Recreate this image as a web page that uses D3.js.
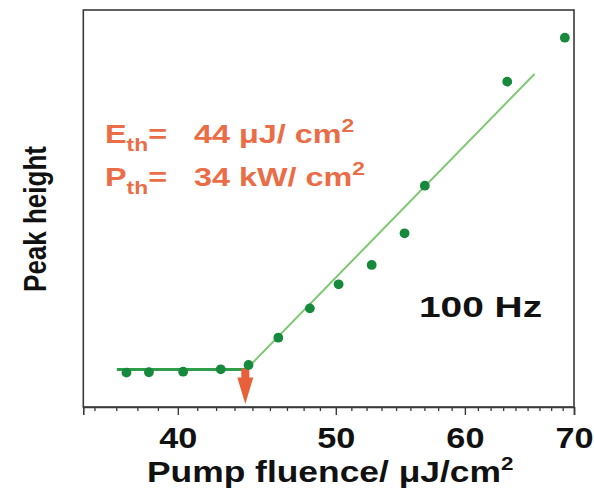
<!DOCTYPE html>
<html>
<head>
<meta charset="utf-8">
<script src="https://cdn.jsdelivr.net/npm/d3@7"></script>
<style>
  html, body { margin: 0; padding: 0; background: #fff; }
  svg { display: block; font-family: "Liberation Sans", Arial, sans-serif; }
</style>
</head>
<body>
<svg id="chart" width="594" height="491"></svg>
<script>
// Pump fluence (µJ/cm²) and measured peak height (arb. units)
const fluence = [37.2, 38.4, 40.3, 42.5, 44.2, 46.1, 48.2, 50.2, 52.6, 55.1, 56.7, 63.7, 69.1];
const peakHeight = [34.6, 35.0, 35.6, 38.0, 42.3, 69.8, 99.4, 123.6, 143.1, 175.0, 223.0, 327.8, 372.1];

// Below-threshold and above-threshold linear fits (endpoints)
const fitBelowX = [36.7, 44.2];
const fitBelowY = [37.8, 37.8];
const fitAboveX = [44.2, 66.2];
const fitAboveY = [40.3, 335.5];

// Threshold values
const thresholdFluence = 44;      // µJ/cm²
const thresholdPower = 34;        // kW/cm²
const repRate = "100 Hz";

// Axis ticks
const xMajorTicks = [40, 50, 60, 70];
const xDomain = [35, 70];
const yDomain = [0, 400];

const svg = d3.select("#chart");
const plotLeft = 83.3, plotRight = 574, plotTop = 10, plotBottom = 407;

const x = d3.scaleLog().domain(xDomain).range([plotLeft, plotRight]);
const y = d3.scaleLinear().domain(yDomain).range([plotBottom, plotTop]);

// Text is drawn slightly widened (horizontal stretch)
const widen = 1.18;

// Minor ticks: eight evenly spaced values inside each step of 10
const minorTicks = [];
const steps = [30].concat(xMajorTicks);
for (let k = 0; k < steps.length - 1; k++) {
  const a = steps[k], b = steps[k + 1];
  for (let i = 1; i <= 8; i++) {
    const v = a + (b - a) * i / 9;
    if (v > xDomain[0] && v < xDomain[1]) minorTicks.push(v);
  }
}

const frameColor = "#3a3a3a";

// Frame (top, left, right)
svg.append("rect")
  .attr("x", plotLeft).attr("y", plotTop)
  .attr("width", plotRight - plotLeft).attr("height", plotBottom - plotTop)
  .attr("fill", "none").attr("stroke", frameColor).attr("stroke-width", 1.6);

// Bottom axis
const xAxis = d3.axisBottom(x)
  .tickValues(xMajorTicks)
  .tickFormat(d3.format("d"))
  .tickSize(8);

const gx = svg.append("g").attr("transform", `translate(0,${plotBottom})`).call(xAxis);
gx.select(".domain").attr("stroke", frameColor).attr("stroke-width", 1.6);
gx.selectAll(".tick line").attr("stroke", frameColor).attr("stroke-width", 1.4);
gx.selectAll(".tick text")
  .attr("y", 41).attr("dy", null)
  .attr("transform", `scale(${widen},1)`)
  .attr("fill", "#111").attr("font-size", 29).attr("font-weight", "bold")
  .attr("font-family", "Liberation Sans, Arial, sans-serif");

const xMinor = d3.axisBottom(x).tickValues(minorTicks).tickSize(4).tickFormat("");
const gm = svg.append("g").attr("transform", `translate(0,${plotBottom})`).call(xMinor);
gm.select(".domain").remove();
gm.selectAll(".tick line").attr("stroke", frameColor).attr("stroke-width", 1.3);

// Axis titles
const xt = svg.append("text")
  .attr("transform", `translate(147,482) scale(${widen},1)`)
  .attr("font-size", 30).attr("font-weight", "bold").attr("fill", "#111");
xt.append("tspan").text("Pump fluence/ μJ/cm");
xt.append("tspan").attr("font-size", 19).attr("dy", -12).text("2");

svg.append("text")
  .attr("transform", `translate(46,219) rotate(-90) scale(1,${widen + 0.05})`)
  .attr("text-anchor", "middle")
  .attr("font-size", 26).attr("font-weight", "bold").attr("fill", "#111")
  .text("Peak height");

// Fit lines
const line = d3.line().x(d => x(d[0])).y(d => y(d[1]));
svg.append("path")
  .datum(d3.zip(fitBelowX, fitBelowY))
  .attr("d", line).attr("fill", "none")
  .attr("stroke", "#2e9e4a").attr("stroke-width", 3);
svg.append("path")
  .datum(d3.zip(fitAboveX, fitAboveY))
  .attr("d", line).attr("fill", "none")
  .attr("stroke", "#7cc870").attr("stroke-width", 2);

// Threshold arrow
const ax = x(thresholdFluence);
const arrowTop = y(fitBelowY[0]) - 1;
const headTop = arrowTop + 9;
const tip = plotBottom - 3;
svg.append("path")
  .attr("d", `M${ax - 4},${arrowTop} L${ax + 4},${arrowTop} L${ax + 4},${headTop} L${ax + 8},${headTop} L${ax},${tip} L${ax - 8},${headTop} L${ax - 4},${headTop} Z`)
  .attr("fill", "#e8603a");

// Data points
svg.append("g").selectAll("circle")
  .data(d3.zip(fluence, peakHeight))
  .join("circle")
  .attr("cx", d => x(d[0])).attr("cy", d => y(d[1]))
  .attr("r", 4.9).attr("fill", "#17893c");

// Threshold annotations
const orange = "#ea6d47";
const nb = "\u00a0";
function thresholdLabel(yPos, sym, valueText) {
  const t = svg.append("text")
    .attr("transform", `translate(105,${yPos}) scale(1.27,1)`)
    .attr("font-size", 25.5).attr("font-weight", "bold").attr("fill", orange);
  t.append("tspan").text(sym);
  t.append("tspan").attr("font-size", 18).attr("dy", 7.5).text("th");
  t.append("tspan").attr("dy", -7.5).text("=" + nb + nb + nb + valueText + "/" + nb + "cm");
  t.append("tspan").attr("font-size", 18).attr("dy", -11).text("2");
}
thresholdLabel(143, "E", thresholdFluence + nb + "μJ");
thresholdLabel(186, "P", thresholdPower + nb + "kW");

// Repetition rate label
svg.append("text")
  .attr("transform", "translate(419,317) scale(1.34,1)")
  .attr("font-size", 29).attr("font-weight", "bold").attr("fill", "#111")
  .text(repRate);
</script>
</body>
</html>
